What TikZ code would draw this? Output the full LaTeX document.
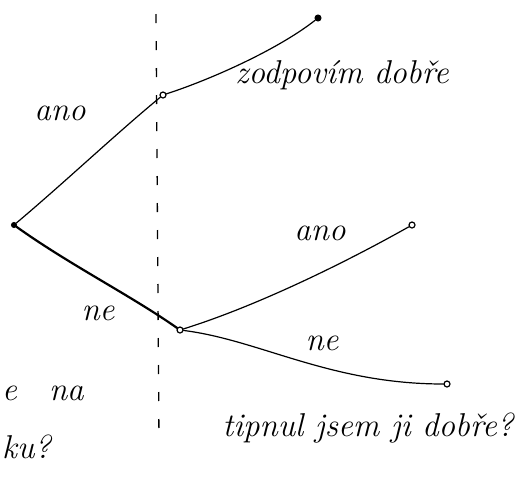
\documentclass[tikz,border=0pt]{standalone}
\usepackage{fontspec}
\setmainfont{Latin Modern Roman}
\begin{document}
\begin{tikzpicture}[x=1pt,y=-1pt,
  hand/.style={font=\itshape\fontsize{33}{36}\selectfont, inner sep=0pt},
  edge/.style={line width=1.2pt, line cap=round},
  thick edge/.style={line width=2.2pt, line cap=round},
  opendot/.style={circle, draw, line width=1.2pt, minimum size=6pt, inner sep=0pt},
  fulldot/.style={circle, draw, fill, line width=1pt, minimum size=6pt, inner sep=0pt}]
\useasboundingbox (0,0) rectangle (524,483);
% dashed divider
\coordinate (dtop) at (156,14);
\coordinate (dbot) at (159,442);
\draw[line width=1.3pt, dash pattern=on 9pt off 18pt] (dtop) -- (dbot);
% nodes
\node[fulldot, minimum size=5pt] (A) at (14,225) {};
\node[opendot] (B) at (163,95) {};
\node[fulldot] (C) at (318,18) {};
\node[opendot] (D) at (180,330) {};
\node[opendot] (E) at (412,225) {};
\node[opendot] (F) at (447,384) {};
% connectors
\draw[edge] (A) .. controls (65,182) and (118,132) .. (B);
\draw[edge] (B) .. controls (215,78) and (280,48) .. (C);
\draw[thick edge] (A) .. controls (70,265) and (130,295) .. (D);
\draw[edge] (D) .. controls (260,305) and (350,260) .. (E);
\draw[edge] (D) .. controls (260,340) and (330,384) .. (F);
% labels
\node[hand] (l1) at (60,113) {ano};
\node[hand] (l2) at (342,75) {zodpovím dobře};
\node[hand] (l3) at (320,233) {ano};
\node[hand] (l4) at (98,313) {ne};
\node[hand] (l5) at (322,343) {ne};
\node[hand, anchor=base west] (l6) at (2,400) {e\hspace{32pt}na};
\node[hand, anchor=base west] (l7) at (2,458) {ku?};
\node[hand] (l8) at (368,428) {tipnul jsem ji dobře?};
\end{tikzpicture}
\end{document}
